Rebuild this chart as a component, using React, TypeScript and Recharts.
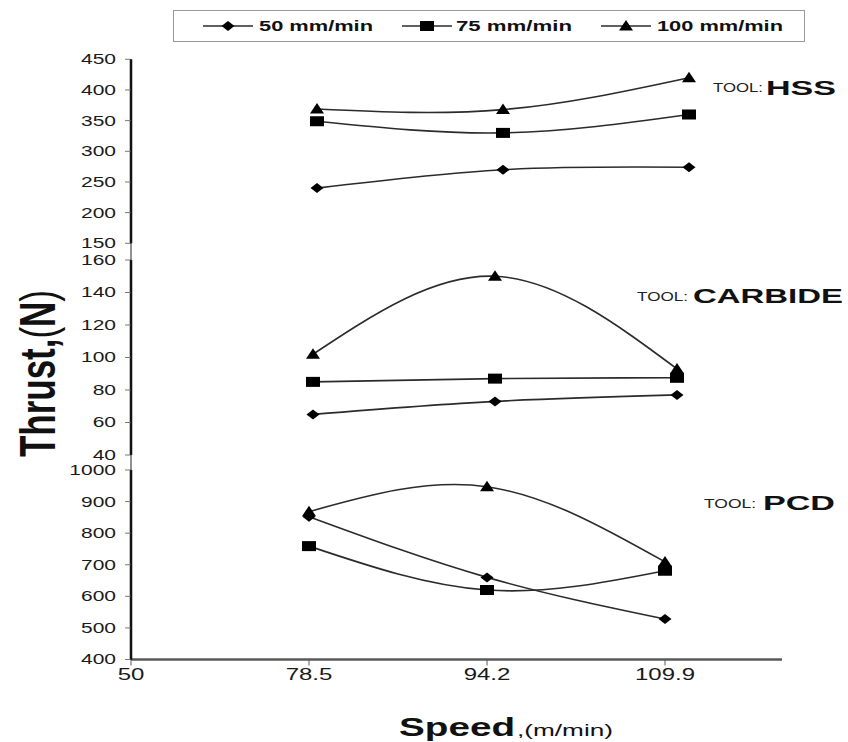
import { LineChart, Line, XAxis, YAxis } from 'recharts';

// cutting speed categories (m/min); the first one only marks the axis origin
const speeds = ['50', '78.5', '94.2', '109.9'];
const feedLabels = ['50 mm/min', '75 mm/min', '100 mm/min'];

// HSS tool
const hssF50 = [null, 240, 270, 274];
const hssF75 = [null, 349, 330, 360];
const hssF100 = [null, 369, 368, 420];
const hssTicks = [150, 200, 250, 300, 350, 400, 450];

// carbide tool
const carbideF50 = [null, 65, 73, 77];
const carbideF75 = [null, 85, 87, 87.5];
const carbideF100 = [null, 102, 150, 93];
const carbideTicks = [40, 60, 80, 100, 120, 140, 160];

// PCD tool
const pcdF50 = [null, 852, 660, 528];
const pcdF75 = [null, 759, 620, 681];
const pcdF100 = [null, 868, 947, 709];
const pcdTicks = [400, 500, 600, 700, 800, 900, 1000];

const FONT = 'Liberation Sans, Arial, sans-serif';
const LINE = '#2b2b2b';
const SX = 1.5; // the scanned figure is stretched sideways

type Kind = 'diamond' | 'square' | 'triangle';
const kinds: Kind[] = ['diamond', 'square', 'triangle'];

function marker(kind: Kind, cx: number, cy: number, key?: string | number) {
  if (kind === 'diamond')
    return <path key={key} d={`M${cx - 6.5},${cy}L${cx},${cy - 5}L${cx + 6.5},${cy}L${cx},${cy + 5}Z`} fill="#000" />;
  if (kind === 'square')
    return <rect key={key} x={cx - 7} y={cy - 5} width={14} height={10} fill="#000" />;
  return <path key={key} d={`M${cx - 7},${cy + 4.5}L${cx},${cy - 6}L${cx + 7},${cy + 4.5}Z`} fill="#000" />;
}

const YTick = ({ x, y, payload }: any) => (
  <text transform={`translate(${x},${y}) scale(${SX},1)`} textAnchor="end" dy="0.355em" fontFamily={FONT} fontSize={14} fill="#1a1a1a">
    {payload.value}
  </text>
);

const XTick = ({ x, y, payload }: any) => (
  <text transform={`translate(${x},${y}) scale(${SX},1)`} textAnchor="middle" dy="0.71em" fontFamily={FONT} fontSize={16} fill="#1a1a1a">
    {payload.value}
  </text>
);

interface PanelProps {
  top: number;
  height: number;
  width: number;
  plotTop: number;
  plotBottom: number;
  padRight: number;
  domain: [number, number];
  ticks: number[];
  f50: (number | null)[];
  f75: (number | null)[];
  f100: (number | null)[];
  xTicks?: boolean;
}

function Panel({ top, height, width, plotTop, plotBottom, padRight, domain, ticks, f50, f75, f100, xTicks }: PanelProps) {
  const data = speeds.map((speed, i) => ({ speed, f50: f50[i], f75: f75[i], f100: f100[i] }));
  const xh = xTicks ? 30 : 0;
  const margin = { top: plotTop - top, right: 0, left: 0, bottom: height - (plotBottom - top) - xh };
  return (
    <div style={{ position: 'absolute', left: 0, top }}>
      <LineChart width={width} height={height} data={data} margin={margin}>
        <XAxis
          dataKey="speed"
          type="category"
          padding={{ left: 0, right: padRight }}
          height={xh}
          axisLine={{ stroke: '#5a5a5a', strokeWidth: 2.5 }}
          tickLine={xTicks ? { stroke: '#5a5a5a' } : false}
          tick={xTicks ? XTick : false}
          tickSize={6}
          tickMargin={3}
          interval={0}
        />
        <YAxis
          type="number"
          domain={domain}
          ticks={ticks}
          interval={0}
          width={131}
          axisLine={{ stroke: '#000', strokeWidth: 2.5 }}
          tickLine={{ stroke: '#777' }}
          tickSize={6}
          tickMargin={9}
          tick={YTick}
        />
        {(['f50', 'f75', 'f100'] as const).map((k, i) => (
          <Line
            key={k}
            dataKey={k}
            type="natural"
            stroke={LINE}
            strokeWidth={1.6}
            isAnimationActive={false}
            activeDot={false}
            dot={(p: any) =>
              p.cx == null || p.cy == null || p.value == null ? <g key={`${k}-${p.index}`} /> : marker(kinds[i], p.cx, p.cy, `${k}-${p.index}`)
            }
          />
        ))}
      </LineChart>
    </div>
  );
}

const legendItems = [
  { x1: 203, x2: 253, tx: 259, tw: 114 },
  { x1: 402, x2: 452, tx: 456, tw: 116 },
  { x1: 601, x2: 651, tx: 657, tw: 126 },
];

export default function App() {
  return (
    <div style={{ position: 'relative', width: 848, height: 742, background: '#fff', fontFamily: FONT }}>
      <style>{'body{margin:0}'}</style>
      <Panel top={0} height={250} width={848} plotTop={59.3} plotBottom={243.3} padRight={159}
        domain={[150, 450]} ticks={hssTicks} f50={hssF50} f75={hssF75} f100={hssF100} />
      <Panel top={250} height={212} width={848} plotTop={260} plotBottom={455} padRight={171}
        domain={[40, 160]} ticks={carbideTicks} f50={carbideF50} f75={carbideF75} f100={carbideF100} />
      <Panel top={462} height={280} width={782} plotTop={470} plotBottom={659.5} padRight={117}
        domain={[400, 1000]} ticks={pcdTicks} f50={pcdF50} f75={pcdF75} f100={pcdF100} xTicks />

      <svg width={848} height={742} style={{ position: 'absolute', left: 0, top: 0, pointerEvents: 'none' }}>
        <line x1={131} y1={59} x2={131} y2={660} stroke="#222" strokeWidth={1} />

        {/* legend */}
        <rect x={173.5} y={10.5} width={631} height={31} fill="#fff" stroke="#999" />
        {legendItems.map((it, i) => (
          <g key={i}>
            <line x1={it.x1} y1={26} x2={it.x2} y2={26} stroke={LINE} strokeWidth={1.6} />
            {marker(kinds[i], (it.x1 + it.x2) / 2, 26)}
            <text x={it.tx} y={31} textLength={it.tw} lengthAdjust="spacingAndGlyphs" fontSize={14} fontWeight="bold" fill="#111">
              {feedLabels[i]}
            </text>
          </g>
        ))}

        {/* tool labels */}
        <text x={713} y={92} textLength={50} lengthAdjust="spacingAndGlyphs" fontSize={12} fill="#222">TOOL:</text>
        <text x={766} y={95} textLength={70} lengthAdjust="spacingAndGlyphs" fontSize={21} fontWeight="bold" fill="#111">HSS</text>
        <text x={637} y={301} textLength={51} lengthAdjust="spacingAndGlyphs" fontSize={12} fill="#222">TOOL:</text>
        <text x={693} y={303} textLength={150} lengthAdjust="spacingAndGlyphs" fontSize={21} fontWeight="bold" fill="#111">CARBIDE</text>
        <text x={704} y={508} textLength={52} lengthAdjust="spacingAndGlyphs" fontSize={12} fill="#222">TOOL:</text>
        <text x={763} y={510} textLength={72} lengthAdjust="spacingAndGlyphs" fontSize={21} fontWeight="bold" fill="#111">PCD</text>

        {/* axis titles */}
        <text transform="translate(55,457) rotate(-90)" textLength={167} lengthAdjust="spacingAndGlyphs" fontSize={50} fontWeight="bold" fill="#111">
          Thrust,<tspan fontWeight="normal">(</tspan>N<tspan fontWeight="normal">)</tspan>
        </text>
        <text x={399} y={736} textLength={116} lengthAdjust="spacingAndGlyphs" fontSize={26} fontWeight="bold" fill="#111">Speed</text>
        <text x={517} y={736} textLength={96} lengthAdjust="spacingAndGlyphs" fontSize={17} fill="#111">,(m/min)</text>
      </svg>
    </div>
  );
}
